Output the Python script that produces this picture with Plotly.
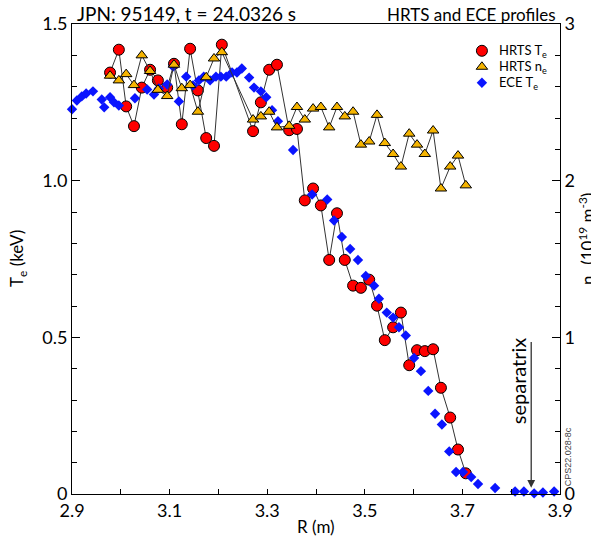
import plotly.graph_objects as go

# HRTS profile (shared major radius for Te and ne)
hrts_r = [2.978, 2.996, 3.011, 3.027, 3.043, 3.060, 3.076, 3.095, 3.109, 3.125,
          3.142, 3.158, 3.175, 3.191, 3.207, 3.271, 3.287, 3.304, 3.320, 3.345,
          3.361, 3.377, 3.394, 3.410, 3.427, 3.443, 3.459, 3.476, 3.492, 3.509,
          3.525, 3.541, 3.558, 3.574, 3.591, 3.607, 3.623, 3.640, 3.656, 3.675,
          3.691, 3.707]
hrts_te = [1.345, 1.418, 1.237, 1.174, 1.297, 1.354, 1.320, 1.297, 1.373, 1.180,
           1.421, 1.288, 1.136, 1.111, 1.434, 1.158, 1.250, 1.354, 1.370, 1.161,
           1.165, 0.937, 0.975, 0.921, 0.747, 0.896, 0.747, 0.665, 0.658, 0.684,
           0.601, 0.491, 0.532, 0.579, 0.411, 0.459, 0.456, 0.462, 0.339, 0.244,
           0.142, 0.066]
hrts_ne = [2.67, 2.64, 2.68, 2.61, 2.80, 2.70, 2.58, 2.54, 2.74, 2.59,
           2.61, 2.44, 2.66, 2.78, 2.82, 2.39, 2.41, 2.44, 2.34, 2.35,
           2.47, 2.39, 2.46, 2.47, 2.34, 2.47, 2.41, 2.44, 2.23, 2.25,
           2.42, 2.24, 2.17, 2.09, 2.30, 2.23, 2.17, 2.32, 1.95, 2.09,
           2.16, 1.97]

# ECE electron temperature
ece_r = [2.900, 2.910, 2.920, 2.929, 2.943, 2.961, 2.966, 2.978, 2.986, 2.996,
         3.029, 3.054, 3.068, 3.078, 3.095, 3.107, 3.119, 3.134, 3.148, 3.160,
         3.170, 3.183, 3.195, 3.205, 3.216, 3.228, 3.238, 3.248, 3.263, 3.273,
         3.287, 3.298, 3.310, 3.322, 3.353, 3.392, 3.423, 3.437, 3.453, 3.470,
         3.486, 3.502, 3.519, 3.529, 3.545, 3.558, 3.570, 3.584, 3.601, 3.615,
         3.630, 3.644, 3.658, 3.673, 3.687, 3.701, 3.718, 3.732, 3.767, 3.808,
         3.826, 3.847, 3.865, 3.888]
ece_te = [1.228, 1.256, 1.269, 1.278, 1.285, 1.259, 1.234, 1.266, 1.250, 1.240,
          1.263, 1.291, 1.275, 1.294, 1.307, 1.364, 1.253, 1.332, 1.304, 1.320,
          1.332, 1.320, 1.332, 1.332, 1.332, 1.345, 1.345, 1.358, 1.329, 1.297,
          1.285, 1.266, 1.225, 1.190, 1.098, 0.956, 0.940, 0.873, 0.820, 0.782,
          0.747, 0.696, 0.665, 0.623, 0.579, 0.563, 0.532, 0.506, 0.434, 0.392,
          0.329, 0.256, 0.222, 0.136, 0.070, 0.070, 0.054, 0.032, 0.019, 0.008,
          0.008, 0.002, 0.005, 0.008]

separatrix_r = 3.841

FONT = "Lato"
LINE = "#333333"

STYLES = {
    "HRTS T<sub>e</sub>": dict(symbol="circle", size=11, color="#ff0000",
                               line=dict(color="#000000", width=1)),
    "HRTS n<sub>e</sub>": dict(symbol="triangle-up", size=10, color="#f5b400",
                               line=dict(color="#000000", width=1)),
    "ECE T<sub>e</sub>": dict(symbol="diamond", size=8, color="#0a14ff",
                              line=dict(width=0)),
}
names = list(STYLES)

fig = go.Figure()

# connecting lines behind the markers
fig.add_trace(go.Scatter(x=hrts_r, y=hrts_te, mode="lines", showlegend=False,
                         line=dict(color=LINE, width=1), hoverinfo="skip"))
fig.add_trace(go.Scatter(x=hrts_r, y=hrts_ne, mode="lines", showlegend=False,
                         yaxis="y2", line=dict(color=LINE, width=1), hoverinfo="skip"))

fig.add_trace(go.Scatter(x=hrts_r, y=hrts_te, mode="markers", name=names[0],
                         marker=STYLES[names[0]], cliponaxis=False, showlegend=False))
fig.add_trace(go.Scatter(x=hrts_r, y=hrts_ne, mode="markers", name=names[1],
                         yaxis="y2", marker=STYLES[names[1]], cliponaxis=False,
                         showlegend=False))
fig.add_trace(go.Scatter(x=ece_r, y=ece_te, mode="markers", name=names[2],
                         marker=STYLES[names[2]], cliponaxis=False, showlegend=False))

# compact key in the upper right, drawn on a unit overlay axis
key_x, key_text_x = 0.840, 0.871
key_rows = [0.943, 0.909, 0.875]
annotations = []
for name, row in zip(names, key_rows):
    fig.add_trace(go.Scatter(x=[key_x], y=[row], mode="markers", marker=STYLES[name],
                             xaxis="x2", yaxis="y3", showlegend=False,
                             hoverinfo="skip", cliponaxis=False))
    annotations.append(dict(text=name, x=key_text_x, y=row, xref="x2", yref="y3",
                            xanchor="left", yanchor="middle", showarrow=False,
                            font=dict(size=13, family=FONT)))

axis_common = dict(showline=True, linecolor="#000000", linewidth=1,
                   showgrid=False, zeroline=False, ticks="inside",
                   tickcolor="#000000", tickfont=dict(family=FONT, size=18, color="#000"))

fig.update_layout(
    width=591, height=542,
    margin=dict(l=72, r=31, t=20, b=48),
    paper_bgcolor="white", plot_bgcolor="white",
    font=dict(family=FONT, color="#000000"),
    showlegend=False,
    xaxis=dict(range=[2.9, 3.9], tickvals=[2.9, 3.1, 3.3, 3.5, 3.7, 3.9],
               ticktext=["2.9", "3.1", "3.3", "3.5", "3.7", "3.9"], ticklen=5,
               minor=dict(dtick=0.1, tick0=2.9, ticks="inside", ticklen=5,
                          tickcolor="#000000"),
               mirror=True, **axis_common),
    yaxis=dict(range=[0, 1.5], tickvals=[0, 0.5, 1.0, 1.5],
               ticktext=["0", "0.5", "1.0", "1.5"], ticklen=8,
               minor=dict(dtick=0.1, tick0=0, ticks="inside", ticklen=5,
                          tickcolor="#000000"),
               **axis_common),
    yaxis2=dict(range=[0, 3], overlaying="y", side="right",
                tickvals=[0, 1, 2, 3], ticktext=["0", "1", "2", "3"], ticklen=8,
                minor=dict(dtick=0.2, tick0=0, ticks="inside", ticklen=5,
                           tickcolor="#000000"),
                **axis_common),
    xaxis2=dict(range=[0, 1], overlaying="x", visible=False, fixedrange=True),
    yaxis3=dict(range=[0, 1], overlaying="y", visible=False, fixedrange=True),
)

annotations += [
    dict(text="JPN: 95149, t = 24.0326 s", xref="paper", yref="paper",
         x=0.006, y=1.0, xanchor="left", yanchor="bottom", showarrow=False,
         font=dict(size=19, family=FONT), yshift=-3),
    dict(text="HRTS and ECE profiles", xref="paper", yref="paper",
         x=0.995, y=1.0, xanchor="right", yanchor="bottom", showarrow=False,
         font=dict(size=17, family=FONT), yshift=-3),
    dict(text="R (m)", xref="paper", yref="paper", x=0.5, y=0,
         xanchor="center", yanchor="top", yshift=-20, showarrow=False,
         font=dict(size=17, family=FONT)),
    dict(text="T<sub>e</sub> (keV)", xref="paper", yref="paper", x=0, y=0.5,
         xanchor="center", yanchor="middle", xshift=-54, textangle=-90,
         showarrow=False, font=dict(size=17, family=FONT)),
    dict(text="n<sub>e</sub> (10<sup>19</sup> m<sup>-3</sup>)", xref="paper",
         yref="paper", x=1, y=0.5, xanchor="center", yanchor="middle",
         xshift=28, yshift=20, textangle=-90, showarrow=False,
         font=dict(size=17, family=FONT)),
    dict(text="separatrix", x=3.814, y=0.36, xref="x", yref="y",
         xanchor="center", yanchor="middle",
         textangle=-90, showarrow=False, font=dict(size=20, family=FONT)),
    dict(text="", x=separatrix_r, y=0.02, ax=separatrix_r, ay=0.49,
         xref="x", yref="y", axref="x", ayref="y", showarrow=True,
         arrowhead=2, arrowsize=1.2, arrowwidth=1.3, arrowcolor="#333333"),
    dict(text="CPS22.028-8c", xref="paper", yref="y", x=1.018, y=0.12,
         xanchor="center", yanchor="middle",
         textangle=-90, showarrow=False,
         font=dict(size=9, family="Liberation Sans", color="#444444")),
]
fig.update_layout(annotations=annotations)

fig.write_html("out.html")
